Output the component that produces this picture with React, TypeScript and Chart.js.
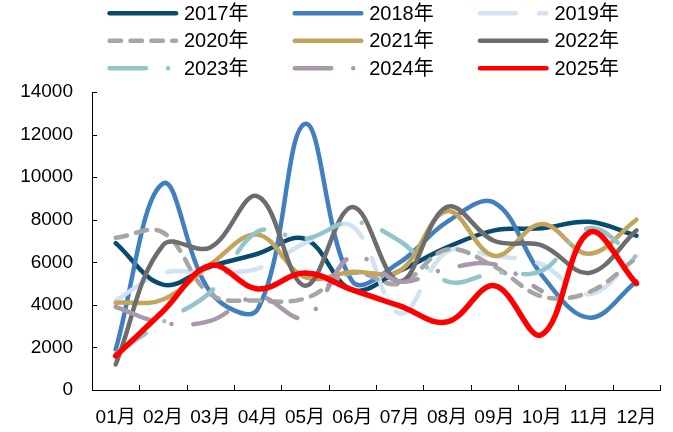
import React, { useEffect, useRef } from "react";
import { Chart, registerables } from "chart.js";

Chart.register(...registerables);

// ---- data ----
const months = ["01月", "02月", "03月", "04月", "05月", "06月", "07月", "08月", "09月", "10月", "11月", "12月"];
const seriesNames = ["2017年", "2018年", "2019年", "2020年", "2021年", "2022年", "2023年", "2024年", "2025年"];

const v2017 = [6900, 4950, 5800, 6400, 7100, 4700, 5600, 6700, 7500, 7600, 7900, 7250];
const v2018 = [1900, 9700, 4600, 3800, 12500, 5100, 6000, 7900, 8800, 5400, 3400, 5100];
const v2019 = [4200, 5500, 5500, 5700, 6900, 7700, 3600, 6500, 6300, 5900, 4500, 6300];
const v2020 = [7150, 7400, 4500, 4200, 4300, 5500, 5000, 6600, 5800, 4400, 4600, 6200];
const v2021 = [4100, 4250, 5900, 7300, 5300, 5550, 5600, 8400, 6300, 7800, 6400, 8000];
const v2022 = [1200, 6800, 6700, 9100, 4900, 8600, 5100, 8600, 7000, 6800, 5500, 7500];
const v2023 = [1700, 3200, 4600, 7450, 7100, 7900, 7000, 5100, 5500, 5600, 7600, 6200];
const v2024 = [3900, 3150, 3250, 4400, 3400, 6300, 5100, 5700, 5900, 4650, null, null];
const v2025 = [1600, 3700, 5850, 4750, 5500, 4700, 3950, 3200, 4900, 2600, 7400, 5000];

const seriesValues = [v2017, v2018, v2019, v2020, v2021, v2022, v2023, v2024, v2025];

const yMin = 0;
const yMax = 14000;
const yStep = 2000;

// ---- styles ----
const seriesColors = ["#074B6F", "#4080C0", "#D0E2F3", "#A6A6A6", "#C4A35A", "#6D6D6D", "#93C4CB", "#A798AA", "#FF0000"];
const seriesWidths = [4.5, 4.5, 4.5, 4.5, 4.5, 4.5, 4.5, 4.5, 5.5];
const seriesDashes: number[][] = [[], [], [36, 23], [11.5, 9.4], [], [], [36.5, 22, 0.01, 22], [36.5, 22, 0.01, 22], []];

const FONT = "'Liberation Sans', Arial, 'Noto Sans CJK SC', sans-serif";

const tickMarksPlugin = {
  id: "insideTicks",
  afterDraw(chart: any) {
    const ctx = chart.ctx;
    const x = chart.scales.x;
    const y = chart.scales.y;
    const area = chart.chartArea;
    ctx.save();
    ctx.strokeStyle = "#000";
    ctx.lineWidth = 1;
    ctx.beginPath();
    const half = (x.getPixelForValue(1) - x.getPixelForValue(0)) / 2;
    for (let i = 0; i < months.length; i++) {
      const px = Math.round(x.getPixelForValue(i) + half) + 0.5;
      ctx.moveTo(px, area.bottom);
      ctx.lineTo(px, area.bottom - 5);
    }
    y.ticks.forEach((t: any) => {
      const py = Math.round(y.getPixelForValue(t.value)) + 0.5;
      ctx.moveTo(area.left, py);
      ctx.lineTo(area.left + 5, py);
    });
    ctx.stroke();
    ctx.restore();
  },
};

const gridLegendPlugin = {
  id: "gridLegend",
  afterDraw(chart: any) {
    const ctx = chart.ctx;
    const colPitch = 185.2;
    const rowPitch = 27.5;
    const x0 = 107.3;
    const y0 = 13.3;
    const sample = 71;
    const lw = 4.5;
    ctx.save();
    chart.data.datasets.forEach((ds: any, i: number) => {
      const col = i % 3;
      const row = Math.floor(i / 3);
      const lx = x0 + col * colPitch;
      const ly = y0 + row * rowPitch;
      ctx.beginPath();
      ctx.strokeStyle = ds.borderColor;
      ctx.lineWidth = lw;
      ctx.lineCap = "round";
      ctx.setLineDash(ds.borderDash || []);
      ctx.moveTo(lx + lw / 2, ly);
      ctx.lineTo(lx + sample - lw / 2, ly);
      ctx.stroke();
      ctx.setLineDash([]);
      ctx.fillStyle = "#000";
      ctx.font = `20px ${FONT}`;
      ctx.textBaseline = "middle";
      ctx.textAlign = "left";
      ctx.fillText(ds.label, lx + sample + 5.7, ly + 1);
    });
    ctx.restore();
  },
};

export default function App() {
  const ref = useRef<HTMLCanvasElement | null>(null);

  useEffect(() => {
    if (!ref.current) return;
    const n = seriesNames.length;
    const chart = new Chart(ref.current, {
      type: "line",
      data: {
        labels: months,
        datasets: seriesNames.map((name, i) => ({
          label: name,
          data: seriesValues[i],
          borderColor: seriesColors[i],
          backgroundColor: seriesColors[i],
          borderWidth: seriesWidths[i],
          borderDash: seriesDashes[i],
          borderCapStyle: "round",
          borderJoinStyle: "round",
          pointRadius: 0,
          pointHoverRadius: 0,
          tension: 0.38,
          fill: false,
          spanGaps: false,
          order: n - i,
        })),
      },
      options: {
        responsive: false,
        animation: false,
        events: [],
        layout: { padding: { top: 92, right: 11.3, left: 0, bottom: 0 } },
        plugins: {
          legend: { display: false },
          tooltip: { enabled: false },
          title: { display: false },
        },
        scales: {
          x: {
            type: "category",
            offset: true,
            grid: { display: false, drawTicks: false, offset: true },
            border: { display: true, color: "#000", width: 1 },
            ticks: {
              color: "#000",
              font: { family: FONT, size: 19 },
              padding: 16,
              maxRotation: 0,
              autoSkip: false,
            },
            afterFit(scale: any) {
              scale.height = 42;
            },
          },
          y: {
            min: yMin,
            max: yMax,
            grid: { display: false, drawTicks: false },
            border: { display: true, color: "#000", width: 1 },
            ticks: {
              stepSize: yStep,
              color: "#000",
              font: { family: FONT, size: 19 },
              padding: 19,
              callback: (v: any) => String(v),
            },
            afterFit(scale: any) {
              scale.width = 92;
            },
          },
        },
      },
      plugins: [tickMarksPlugin, gridLegendPlugin],
    } as any);
    return () => chart.destroy();
  }, []);

  return (
    <div style={{ position: "fixed", left: 0, top: 0, width: 673, height: 432, background: "#fff" }}>
      <canvas ref={ref} width={673} height={432} style={{ display: "block" }} />
    </div>
  );
}
